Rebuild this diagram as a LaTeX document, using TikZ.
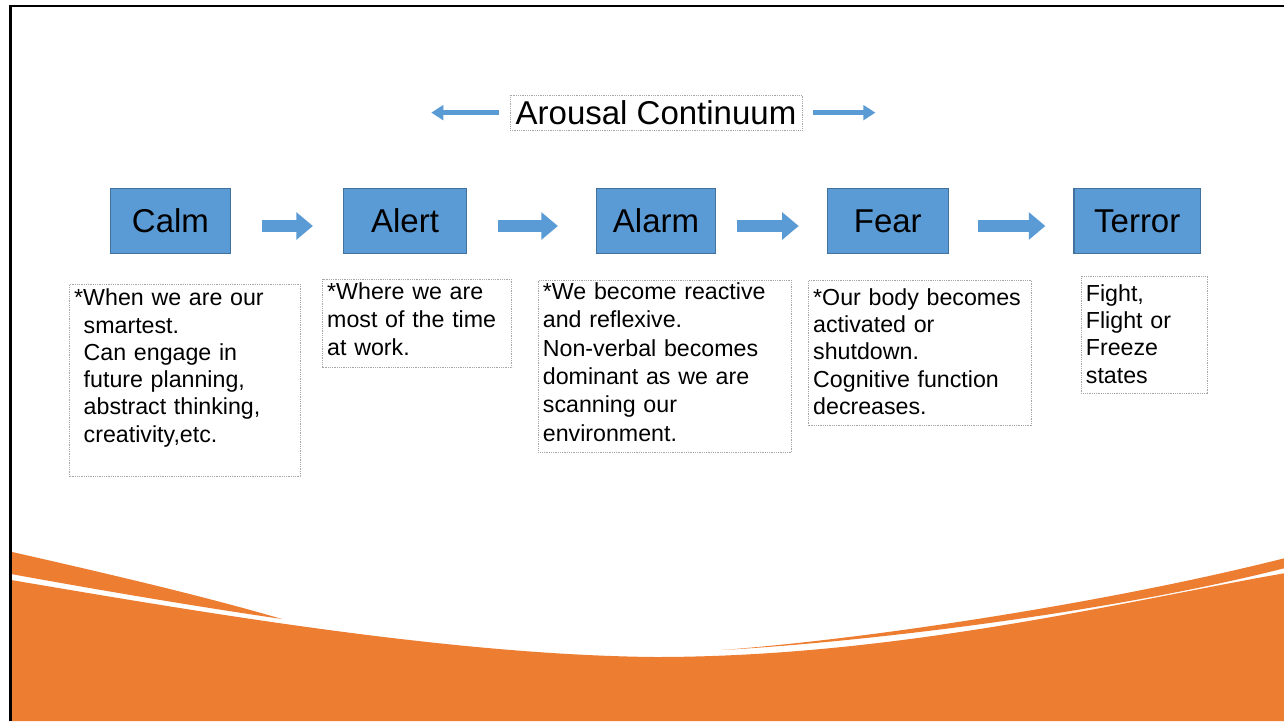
\documentclass[tikz,border=0pt]{standalone}
\usepackage{fontspec}
\setmainfont{Liberation Sans}
\usetikzlibrary{arrows.meta,positioning}

\definecolor{stagefill}{HTML}{5B9BD5}
\definecolor{stageline}{HTML}{41719C}
\definecolor{wave}{HTML}{ED7D31}
% extra room under the last line of a note
\newcommand{\padbelow}[1]{\rule[-#1]{0pt}{0pt}}

\begin{document}
\begin{tikzpicture}[x=1pt, y=-1pt,
    stage/.style={draw=stageline, fill=stagefill, line width=1.2pt, minimum height=64.5pt, inner sep=0pt, font=\fontsize{33}{40}\selectfont},
    note/.style={draw=gray!70, densely dotted, line width=0.8pt, anchor=north west, align=left, inner xsep=4.5pt, font=\fontsize{23.2}{27.3}\selectfont},
    flow/.style={line width=11.5pt, draw=stagefill, -{Triangle[length=16.5pt, width=26.5pt]}},
    thinflow/.style={line width=4.7pt, draw=stagefill, -{Triangle[length=12pt, width=14.5pt]}}]
        \fill[white] (0,0) rectangle (1284,721);
        \useasboundingbox (0,0) rectangle (1284,721);
        % orange band at the bottom
        \fill[wave] (11,580) .. controls (200,612) and (450,655) .. (655,657) .. controls (900,657) and (1130,600) .. (1284,573.3) -- (1284,721) -- (11,721) -- cycle;
        \fill[wave] (11,551.7) .. controls (100,572) and (200,595) .. (282,619) .. controls (200,607) and (110,592) .. (11,574) -- cycle;
        \fill[wave] (722,650) .. controls (880,638) and (1120,600) .. (1284,558.3) -- (1284,568.3) .. controls (1120,610) and (880,641) .. (722,650) -- cycle;
        \draw[line width=2.5pt, line join=miter] (10.5,721) -- (10.5,6.2) -- (1284,6.2);

        \node[stage, minimum width=120pt] (calm) at (170.5,221) {Calm};
        \node[stage, minimum width=123pt] (alert) at (405,221) {Alert};
        \node[stage, minimum width=119pt] (alarm) at (656,221) {Alarm};
        \node[stage, minimum width=121pt] (fear) at (887.8,221) {Fear};
        \node[stage, minimum width=126.5pt] (terror) at (1137.2,221) {Terror};

        \node[draw=gray!70, densely dotted, line width=0.8pt, minimum width=292pt, minimum height=35pt, inner sep=0pt, font=\fontsize{33}{40}\selectfont, above=57.6pt of alarm] (title) {Arousal Continuum};
        \coordinate[left=78.3pt of title] (lefttip);
        \coordinate[right=73pt of title] (righttip);
        \draw[thinflow] ([xshift=-10.7pt]title.west) -- (lefttip);
        \draw[thinflow] ([xshift=11pt]title.east) -- (righttip);

        \draw[flow, shorten <=31pt, shorten >=30pt] ([yshift=-5pt]calm.east) -- ([yshift=-5pt]alert.west);
        \draw[flow, shorten <=31pt, shorten >=38pt] ([yshift=-5pt]alert.east) -- ([yshift=-5pt]alarm.west);
        \draw[flow, shorten <=21pt, shorten >=28pt] ([yshift=-5pt]alarm.east) -- ([yshift=-5pt]fear.west);
        \draw[flow, shorten <=29pt, shorten >=28pt] ([yshift=-5pt]fear.east) -- ([yshift=-5pt]terror.west);

        \node[note, inner ysep=4.5pt, text width=222pt] (calmnote) at (69.3,284) {*When we are our\\\hspace*{9.5pt}smartest.\\\hspace*{9.5pt}Can engage in\\\hspace*{9.5pt}future planning,\\\hspace*{9.5pt}abstract thinking,\\\hspace*{9.5pt}creativity,etc.\padbelow{30pt}};
        \node[note, inner ysep=3.5pt, text width=180pt, font=\fontsize{23.2}{28}\selectfont] (alertnote) at (322.3,279) {*Where we are\\most of the time\\at work.\padbelow{8.5pt}};
        \node[note, inner ysep=2pt, text width=244pt, font=\fontsize{23.2}{28.4}\selectfont] (alarmnote) at (538,280) {*We become reactive\\and reflexive.\\Non-verbal becomes\\dominant as we are\\scanning our\\environment.\padbelow{9.5pt}};
        \node[note, inner ysep=8.5pt, text width=214pt, font=\fontsize{23.2}{27.1}\selectfont] (fearnote) at (808.3,280) {*Our body becomes\\activated or\\shutdown.\\Cognitive function\\decreases.\padbelow{3.2pt}};
        \node[note, inner ysep=8.5pt, text width=117pt, font=\fontsize{23.2}{27.2}\selectfont] (terrornote) at (1081,275.7) {Fight,\\Flight or\\Freeze\\states\padbelow{1.5pt}};
      \end{tikzpicture}
\end{document}
